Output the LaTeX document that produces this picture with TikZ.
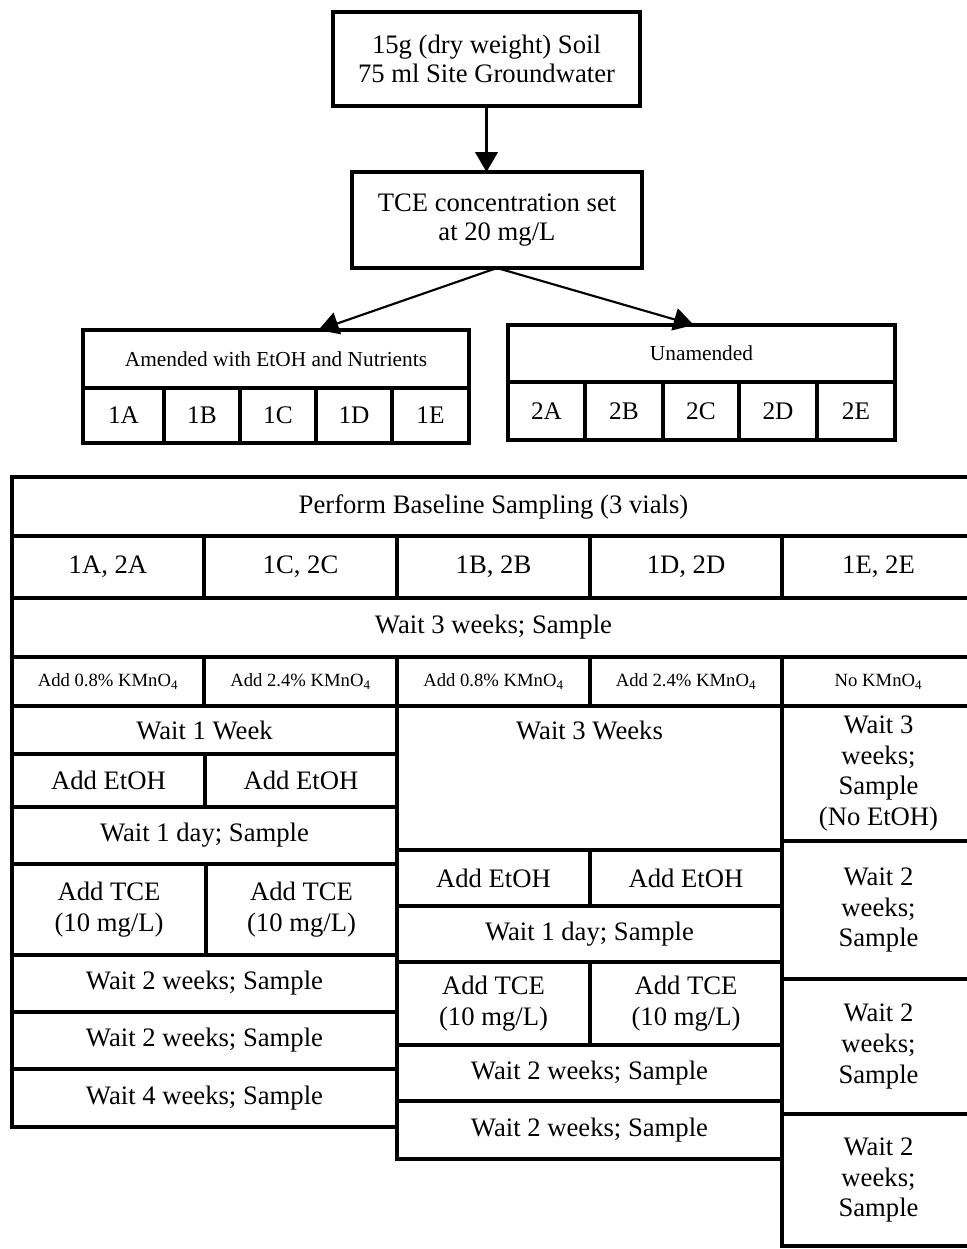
\documentclass[tikz,border=0pt]{standalone}
\usepackage{fontspec}
\setmainfont{Liberation Serif}
\usetikzlibrary{arrows.meta,calc}
\tikzset{
  cell/.style={draw, line width=2.3pt, inner sep=0pt, outer sep=0pt, align=center, font=\fontsize{20}{23}\selectfont},
  topbox/.style={font=\fontsize{20}{22}\selectfont},
  hdr/.style={font=\fontsize{16}{19}\selectfont},
  grp/.style={font=\fontsize{19}{22}\selectfont},
  small/.style={font=\fontsize{14}{17}\selectfont},
  lbl/.style={inner sep=0pt, align=center, font=\fontsize{20}{23}\selectfont},
  flow/.style={line width=1.6pt, -{Triangle[length=15pt,width=17pt]}}
}
\newcommand\mkcell[7]{\node[cell,#6,minimum width={(#4-#2)*0.75pt},minimum height={(#5-#3)*0.75pt}] (#1) at ({(#2+#4)/2},{(#3+#5)/2}) {#7};}
\begin{document}
\begin{tikzpicture}[x=0.75pt,y=-0.75pt]
\useasboundingbox (0,0) rectangle (967,1249);
\begin{scope}
\clip (0,0) rectangle (967,1249);
% top flow
\mkcell{soil}{333}{12}{640}{106}{topbox}{15g (dry weight) Soil\\75 ml Site Groundwater}
\mkcell{tce}{352}{172}{642}{268}{topbox}{TCE concentration set\\at 20 mg/L}
% groups
\mkcell{amh}{83}{330}{469}{388}{hdr}{Amended with EtOH and Nutrients}
\mkcell{g1a}{83}{388}{164}{443}{grp}{1A}
\mkcell{g1b}{164}{388}{240}{443}{grp}{1B}
\mkcell{g1c}{240}{388}{316}{443}{grp}{1C}
\mkcell{g1d}{316}{388}{392}{443}{grp}{1D}
\mkcell{g1e}{392}{388}{469}{443}{grp}{1E}
\mkcell{unh}{508}{325}{895}{382}{hdr}{Unamended}
\mkcell{g2a}{508}{382}{585}{440}{grp}{2A}
\mkcell{g2b}{585}{382}{663}{440}{grp}{2B}
\mkcell{g2c}{663}{382}{739}{440}{grp}{2C}
\mkcell{g2d}{739}{382}{817}{440}{grp}{2D}
\mkcell{g2e}{817}{382}{895}{440}{grp}{2E}
\draw[flow] (soil.south) -- (soil.south |- tce.north);
\draw[flow] (tce.south) -- ($(amh.north west)!0.61!(amh.north east)$);
\draw[flow] (tce.south) -- ($(unh.north west)!0.48!(unh.north east)$);
% big table
\mkcell{base}{12}{477}{975}{536}{}{Perform Baseline Sampling (3 vials)}
\mkcell{p1}{12}{536}{204}{598}{}{1A, 2A}
\mkcell{p2}{204}{536}{397}{598}{}{1C, 2C}
\mkcell{p3}{397}{536}{590}{598}{}{1B, 2B}
\mkcell{p4}{590}{536}{782}{598}{}{1D, 2D}
\mkcell{p5}{782}{536}{975}{598}{}{1E, 2E}
\mkcell{w3s}{12}{598}{975}{657}{}{Wait 3 weeks; Sample}
\mkcell{k1}{12}{657}{204}{706}{small}{Add 0.8\% KMnO\textsubscript{4}}
\mkcell{k2}{204}{657}{397}{706}{small}{Add 2.4\% KMnO\textsubscript{4}}
\mkcell{k3}{397}{657}{590}{706}{small}{Add 0.8\% KMnO\textsubscript{4}}
\mkcell{k4}{590}{657}{782}{706}{small}{Add 2.4\% KMnO\textsubscript{4}}
\mkcell{k5}{782}{657}{975}{706}{small}{No KMnO\textsubscript{4}}
% left block
\mkcell{l1}{12}{706}{397}{754}{}{Wait 1 Week}
\mkcell{l2a}{12}{754}{205}{807}{}{Add EtOH}
\mkcell{l2b}{205}{754}{397}{807}{}{Add EtOH}
\mkcell{l3}{12}{807}{397}{864}{}{Wait 1 day; Sample}
\mkcell{l4a}{12}{864}{206}{955}{}{Add TCE\\(10 mg/L)}
\mkcell{l4b}{206}{864}{397}{955}{}{Add TCE\\(10 mg/L)}
\mkcell{l5}{12}{955}{397}{1012}{}{Wait 2 weeks; Sample}
\mkcell{l6}{12}{1012}{397}{1069}{}{Wait 2 weeks; Sample}
\mkcell{l7}{12}{1069}{397}{1127}{}{Wait 4 weeks; Sample}
% middle block
\mkcell{m1}{397}{706}{782}{850}{}{}
\node[lbl] (m1t) at ($(m1.north)+(0,24)$) {Wait 3 Weeks};
\mkcell{m2a}{397}{850}{590}{906}{}{Add EtOH}
\mkcell{m2b}{590}{850}{782}{906}{}{Add EtOH}
\mkcell{m3}{397}{906}{782}{962}{}{Wait 1 day; Sample}
\mkcell{m4a}{397}{962}{590}{1045}{}{Add TCE\\(10 mg/L)}
\mkcell{m4b}{590}{962}{782}{1045}{}{Add TCE\\(10 mg/L)}
\mkcell{m5}{397}{1045}{782}{1101}{}{Wait 2 weeks; Sample}
\mkcell{m6}{397}{1101}{782}{1159}{}{Wait 2 weeks; Sample}
% right column
\mkcell{r1}{782}{706}{975}{841}{}{Wait 3\\weeks;\\Sample\\(No EtOH)}
\mkcell{r2}{782}{841}{975}{979}{}{Wait 2\\weeks;\\Sample}
\mkcell{r3}{782}{979}{975}{1114}{}{Wait 2\\weeks;\\Sample}
\mkcell{r4}{782}{1114}{975}{1246}{}{Wait 2\\weeks;\\Sample}
\end{scope}
\end{tikzpicture}
\end{document}
